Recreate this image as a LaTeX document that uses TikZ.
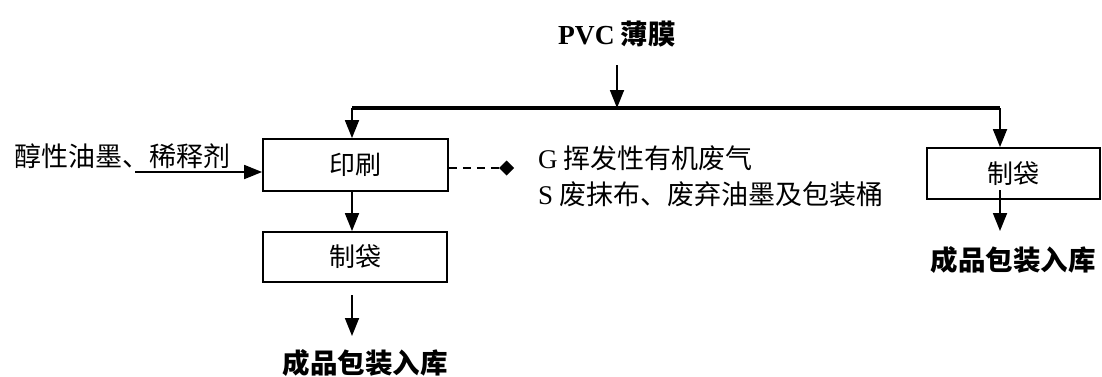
\documentclass[tikz,border=0pt]{standalone}
\usepackage{fontspec}
\setmainfont{Noto Sans CJK SC}
\newfontfamily\lat{Liberation Serif}
\usetikzlibrary{arrows.meta}
\tikzset{
  procbox/.style={draw, line width=1.8pt, minimum width=#1, inner sep=0pt, font=\fontsize{26}{30}\selectfont},
  txt/.style={inner sep=0pt, font=\fontsize{27}{31}\selectfont},
  boldtxt/.style={inner sep=0pt, font=\fontsize{27.5}{31}\selectfont\bfseries},
  flow/.style={line width=1.8pt, -{Triangle[width=14pt,length=18pt]}},
  bus/.style={line width=3.2pt},
  emit/.style={line width=1.8pt, dashed, dash pattern=on 8pt off 6pt, -{Diamond[width=15pt,length=15pt]}}
}
\begin{document}
\begin{tikzpicture}[x=1pt,y=-1pt]
\useasboundingbox (0,0) rectangle (1102,376);
% title
\node[boldtxt] (pvc) at (617,34) {{\lat PVC} 薄膜};
\coordinate (ptop) at (617,65);
\coordinate (pm) at (617,108);
\coordinate (bl) at (352,108);
\coordinate (br) at (1000,108);
% boxes
\node[procbox=185pt, minimum height=52pt] (print) at (355.5,165) {印刷};
\node[procbox=184pt, minimum height=50pt] (bagL) at (355,257) {制袋};
\node[procbox=173pt, minimum height=51pt] (bagR) at (1013.5,173.5) {制袋};
% texts
\node[txt] (ink) at (122,156) {醇性油墨、稀释剂};
\node[txt, anchor=west] (gas) at (538,158) {{\lat G} 挥发性有机废气};
\node[txt, anchor=west] (solid) at (538,194) {{\lat S} 废抹布、废弃油墨及包装桶};
\node[boldtxt] (prodL) at (365,363) {成品包装入库};
\node[boldtxt] (prodR) at (1013,260) {成品包装入库};
% connectors
\draw[flow] (ptop) -- (pm);
\draw[bus] (bl) -- (br);
\draw[flow] (bl) -- (bl |- print.north);
\draw[flow] (br) -- (br |- bagR.north);
\coordinate (inkstart) at (135,172);
\draw[flow] (inkstart) -- (inkstart -| print.west);
\coordinate (gend) at (514,168);
\draw[emit] (print.east |- gend) -- (gend);
\draw[flow] (bl |- print.south) -- (bl |- bagL.north);
\coordinate (dl1) at (352,295);
\coordinate (dl2) at (352,336);
\draw[flow] (dl1) -- (dl2);
\coordinate (dr1) at (1000,190);
\coordinate (dr2) at (1000,231);
\draw[flow] (dr1) -- (dr2);
\end{tikzpicture}
\end{document}
